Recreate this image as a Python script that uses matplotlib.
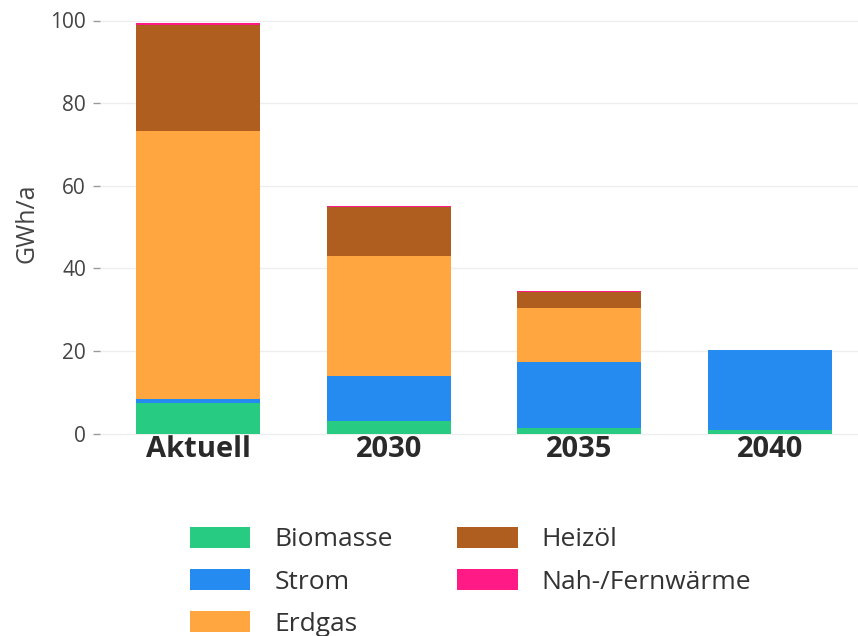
import matplotlib
matplotlib.use("Agg")
import matplotlib.pyplot as plt
from matplotlib.patches import Patch

# Final energy demand for heat by carrier (GWh/a)
categories = ["Aktuell", "2030", "2035", "2040"]
carriers = ["Biomasse", "Strom", "Erdgas", "Heizöl", "Nah-/Fernwärme"]
biomasse = [7.5, 3.0, 1.3, 0.8]
strom = [0.8, 11.0, 16.0, 19.3]
erdgas = [65.0, 28.9, 13.1, 0.0]
heizoel = [25.6, 12.0, 3.8, 0.0]
fernwaerme = [0.6, 0.3, 0.3, 0.0]
y_ticks = [0, 20, 40, 60, 80, 100]

series = [biomasse, strom, erdgas, heizoel, fernwaerme]
colors = ["#27CC82", "#268BF0", "#FFA640", "#B05D20", "#FF1A85"]

plt.rcParams["font.family"] = ["Open Sans", "DejaVu Sans"]

W, H = 858, 636
fig = plt.figure(figsize=(W / 100, H / 100), dpi=100)
# axes rectangle in pixel terms
left_px, right_px, top_px, bottom_px = 100, 858, 8, 438
ax = fig.add_axes([left_px / W, 1 - bottom_px / H,
                   (right_px - left_px) / W, (bottom_px - top_px) / H])

x = list(range(len(categories)))
bottoms = [0.0] * len(categories)
for vals, col, name in zip(series, colors, carriers):
    ax.bar(x, vals, width=0.65, bottom=bottoms, color=col,
           linewidth=0, label=name, zorder=3)
    bottoms = [b + v for b, v in zip(bottoms, vals)]

# y scale: 0 at px 433.5, 100 at px 20.5
ppu = (433.5 - 20.5) / 100
ax.set_ylim(-(bottom_px - 433.5) / ppu, 100 + (20.5 - top_px) / ppu)
ax.set_xlim(-(198 - left_px) / 190.5, 3 + (right_px - 770) / 190.5)

ax.set_yticks(y_ticks)
ax.set_yticklabels([str(t) for t in y_ticks])
ax.set_xticks(x)
ax.set_xticklabels(categories, fontsize=21, fontweight="bold", color="#2a2a2a")
ax.tick_params(axis="x", length=0, pad=-2)
ax.tick_params(axis="y", length=5, width=1, color="#999999", pad=5,
               labelsize=15, labelcolor="#444444")
ax.grid(axis="y", color="#eeeeee", linewidth=1, zorder=0)
for s in ax.spines.values():
    s.set_visible(False)
ax.set_ylabel("GWh/a", fontsize=18, color="#444444", labelpad=8)

handles = [Patch(facecolor=c, edgecolor="none") for c in colors]
fig.legend(handles, carriers, loc="upper left",
           bbox_to_anchor=(166 / W, 1 - 503 / H), ncol=2, frameon=False,
           fontsize=19, handlelength=2.3, handleheight=0.85,
           handletextpad=0.9, columnspacing=2.43, labelspacing=0.63,
           labelcolor="#333333")

fig.savefig("out.png", dpi=100)
